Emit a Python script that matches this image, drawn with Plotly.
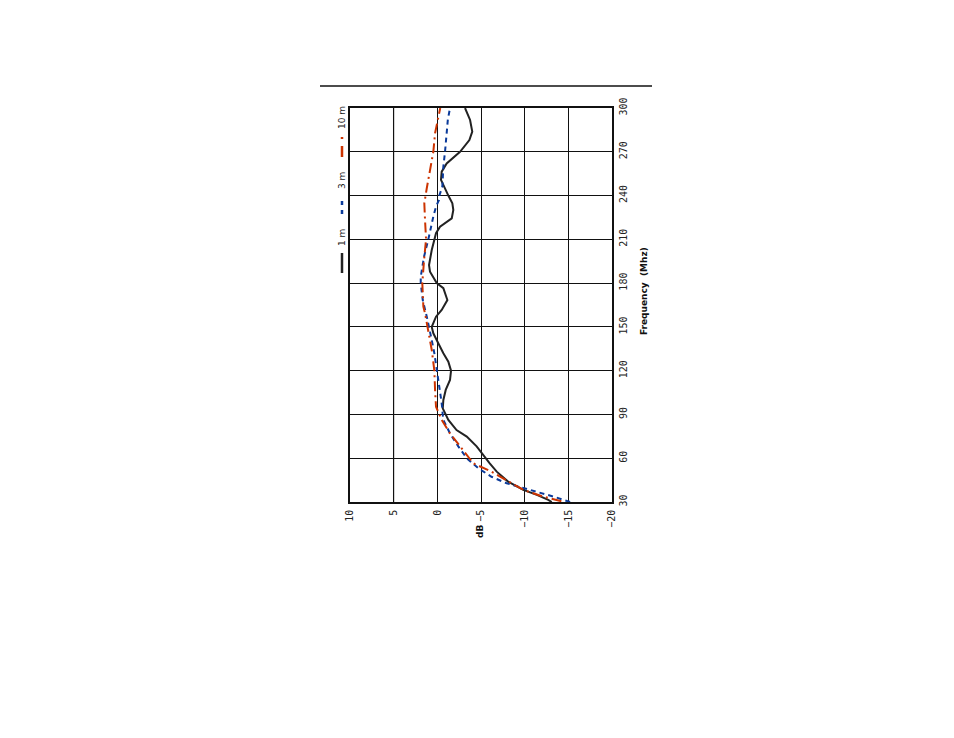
import plotly.graph_objects as go

# 1 m curve: frequency (MHz) and level (dB)
freq_1m = [30, 31.5, 34.9, 38.3, 44, 50.8, 56.5, 63.4, 68.1, 74.8, 79.3, 86.2, 90.8,
           94.2, 99.9, 106.8, 113.6, 120, 126.2, 131.9, 138.8, 145.6, 150, 157, 161.6,
           168.4, 176.5, 180, 187.8, 192.4, 202.7, 210, 214.2, 218.7, 224.4, 230.1,
           234.7, 240, 245, 250.7, 256.4, 262, 270, 278, 283.8, 291.8, 300]
db_1m = [-13.1, -12.7, -11.4, -9.85, -8.1, -6.8, -6.0, -5.07, -4.5, -3.37, -2.2, -1.26, -0.88,
         -0.62, -0.69, -0.96, -1.45, -1.57, -1.26, -0.69, -0.11, 0.46, 0.64, 0.15, -0.5,
         -1.15, -0.69, 0.07, 0.84, 0.95, 0.64, 0.34, 0.15, -0.31, -1.65, -1.83,
         -1.72, -1.26, -0.88, -0.42, -0.5, -1.07, -2.6, -3.67, -4.0, -3.75, -3.17]

# 3 m curve
freq_3m = [30, 33.7, 38.3, 42.8, 47.3, 53.1, 60, 68.1, 77, 86.2, 90.8, 94.2, 102.2,
           111.4, 120, 131.9, 141, 150, 157, 168.4, 180, 184.4, 198.2, 210, 218.7,
           225.6, 232.4, 237, 240, 246.1, 259.8, 270, 291.8, 300]
db_3m = [-15.2, -13.3, -10.6, -7.95, -6.2, -4.7, -3.37, -2.4, -1.45, -0.69, -0.6, -0.57, -0.39,
         -0.19, 0.07, 0.34, 0.64, 0.92, 1.21, 1.67, 1.9, 1.9, 1.52, 1.03, 0.76,
         0.46, 0.15, -0.19, -0.23, -0.57, -0.69, -0.88, -1.2, -1.45]

# 10 m curve
freq_10m = [30.5, 33.7, 38.3, 45.1, 50.8, 56.5, 68.1, 77, 86.2, 95.3, 106.8, 120,
            134.2, 147.9, 159.3, 163.9, 170.7, 180, 195.9, 210, 223.3, 234.7, 245,
            257.5, 270, 282.7, 300]
db_10m = [-14.2, -12.1, -9.85, -7.95, -6.2, -4.12, -2.6, -1.45, -0.5, 0.15, 0.26, 0.34,
          0.64, 1.03, 1.41, 1.6, 1.67, 1.72, 1.52, 1.29, 1.41, 1.49, 1.21,
          0.84, 0.46, 0.26, -0.33]

x_ticks = [10, 5, 0, -5, -10, -15, -20]
x_tick_text = ["10", "5", "0", "\u22125", "\u221210", "\u221215", "\u221220"]
y_ticks = [30, 60, 90, 120, 150, 180, 210, 240, 270, 300]

W, H = 954, 738
OFF = 8  # page body offset
L, R, T, B = 350, 612, 108, 502

fig = go.Figure()
fig.add_trace(go.Scatter(x=db_1m, y=freq_1m, mode="lines", name="1 m",
                         line=dict(color="#222222", width=2)))
fig.add_trace(go.Scatter(x=db_3m, y=freq_3m, mode="lines", name="3 m",
                         line=dict(color="#0a3a9a", width=2, dash="5px,4px")))
fig.add_trace(go.Scatter(x=db_10m, y=freq_10m, mode="lines", name="10 m",
                         line=dict(color="#cc3300", width=2, dash="10px,4px,2px,4px")))

tickfont = dict(family="DejaVu Sans Mono", size=10, color="#222222")

fig.update_layout(
    width=W, height=H,
    margin=dict(l=L - OFF, r=W - R + OFF, t=T - OFF, b=H - B + OFF, pad=0),
    paper_bgcolor="white", plot_bgcolor="white",
    showlegend=False,
    xaxis=dict(range=[10, -20], tickvals=x_ticks, ticktext=x_tick_text,
               tickangle=-90, tickfont=tickfont, showgrid=True, gridcolor="#111111",
               gridwidth=1.4, zeroline=False, showline=True, linecolor="#111111",
               linewidth=1.5, mirror=True, ticks="", ticklabelstandoff=2),
    yaxis=dict(range=[30, 300], tickvals=y_ticks, side="right", tickangle=-90,
               tickfont=tickfont, showgrid=True, gridcolor="#111111", gridwidth=1.4,
               zeroline=False, showline=True, linecolor="#111111", linewidth=1.5,
               mirror=True, ticks="", ticklabelstandoff=1),
)


def px_x(px):
    return (px - L) / (R - L)


def px_y(py):
    return (B - py) / (B - T)


shapes = [
    # gray grid line at +5 dB
    dict(type="line", xref="x", yref="paper", x0=5, x1=5, y0=0, y1=1,
         line=dict(color="#888888", width=1.4), layer="between"),
    # top rule
    dict(type="line", xref="paper", yref="paper",
         x0=px_x(320), x1=px_x(652), y0=px_y(86), y1=px_y(86),
         line=dict(color="#111111", width=1.3)),
]

# legend symbols (vertical)
shapes.append(dict(type="line", xref="paper", yref="paper", x0=px_x(342), x1=px_x(342),
                   y0=px_y(273), y1=px_y(253), line=dict(color="#222222", width=2.5)))
shapes.append(dict(type="line", xref="paper", yref="paper", x0=px_x(342), x1=px_x(342),
                   y0=px_y(214), y1=px_y(200),
                   line=dict(color="#0a3a9a", width=2.5, dash="4px,5px")))
shapes.append(dict(type="line", xref="paper", yref="paper", x0=px_x(342), x1=px_x(342),
                   y0=px_y(157), y1=px_y(136),
                   line=dict(color="#cc3300", width=2.5, dash="11px,7px,2px,8px")))
fig.update_layout(shapes=shapes)

legend_font = dict(family="DejaVu Sans", size=9, color="#222222")
annotations = [
    dict(text="1 m", x=px_x(342), y=px_y(238), textangle=-90, font=legend_font),
    dict(text="3 m", x=px_x(342), y=px_y(181), textangle=-90, font=legend_font),
    dict(text="10 m", x=px_x(342), y=px_y(118), textangle=-90, font=legend_font),
    dict(text="<b>dB</b>", x=px_x(480), y=px_y(532), textangle=-90,
         font=dict(family="DejaVu Sans", size=9, color="#111111")),
    dict(text="<b>Frequency  (Mhz)</b>", x=px_x(644), y=px_y(291), textangle=-90,
         font=dict(family="DejaVu Sans", size=9, color="#111111")),
]
for a in annotations:
    a.update(xref="paper", yref="paper", showarrow=False, xanchor="center", yanchor="middle")
fig.update_layout(annotations=annotations)

fig.write_html("out.html")
